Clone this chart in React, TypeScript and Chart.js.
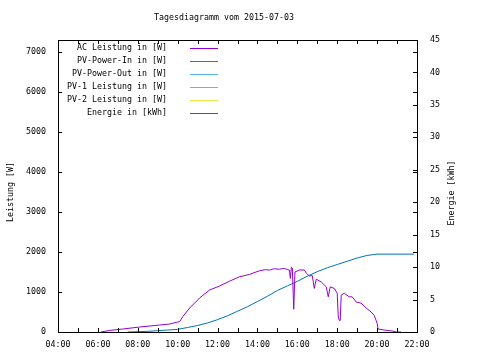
import React, { useEffect, useRef } from "react";
import { Chart, registerables } from "chart.js";

Chart.register(...registerables);

const TITLE = "Tagesdiagramm vom 2015-07-03";
const Y_LABEL = "Leistung [W]";
const Y2_LABEL = "Energie [kWh]";

const seriesLabels = [
  "AC Leistung in [W]",
  "PV-Power-In in [W]",
  "PV-Power-Out in [W]",
  "PV-1 Leistung in [W]",
  "PV-2 Leistung in [W]",
  "Energie in [kWh]",
];
const seriesColors = ["#9400d3", "#009e73", "#56b4e9", "#e69f00", "#f0e442", "#0072b2"];

// time in hours (decimal)
const acTimes = [
  6.15, 6.6, 7.25, 8.1, 9.1, 9.6, 10.0, 10.1, 10.25, 10.6, 11.1, 11.6, 12.1, 12.6, 13.1,
  13.6, 14.1, 14.4, 14.6, 14.8, 15.1, 15.35, 15.5, 15.6, 15.65, 15.7, 15.75, 15.82, 15.88,
  16.1, 16.35, 16.45, 16.6, 16.75, 16.85, 16.95, 17.2, 17.45, 17.55, 17.65, 17.85, 18.0,
  18.05, 18.1, 18.15, 18.2, 18.35, 18.6, 18.75, 18.95, 19.2, 19.45, 19.7, 19.85, 20.0,
  20.05, 20.35, 20.75, 20.95, 21.2,
];
const acValues = [
  0, 40, 75, 125, 175, 200, 250, 260, 380, 600, 850, 1050, 1150, 1270, 1380,
  1440, 1530, 1560, 1545, 1580, 1570, 1590, 1560, 1550, 1340, 1620, 1600, 570, 1500,
  1550, 1550, 1470, 1400, 1410, 1090, 1320, 1250, 1130, 880, 1130, 1090, 970,
  400, 290, 290, 920, 970, 880, 880, 750, 720, 600, 500, 420, 220,
  75, 50, 25, 0, 0,
];

const energyTimes = [
  7.5, 8.0, 8.5, 9.0, 9.5, 10.0, 10.5, 11.0, 11.5, 12.0, 12.5, 13.0, 13.5, 14.0, 14.5,
  15.0, 15.5, 16.0, 16.5, 17.0, 17.5, 18.0, 18.5, 19.0, 19.5, 20.0, 20.5, 21.0, 21.85,
];
const energyValues = [
  0, 0.05, 0.1, 0.2, 0.3, 0.4, 0.7, 1.0, 1.4, 1.9, 2.5, 3.2, 3.9, 4.7, 5.5,
  6.4, 7.1, 7.8, 8.6, 9.3, 9.9, 10.4, 10.9, 11.4, 11.8, 12.0, 12.0, 12.0, 12.0,
];

const xTickHours = [4, 6, 8, 10, 12, 14, 16, 18, 20, 22];
const xMinorHours = [4, 5, 6, 7, 8, 9, 10, 11, 12, 13, 14, 15, 16, 17, 18, 19, 20, 21, 22];
const yTicks = [0, 1000, 2000, 3000, 4000, 5000, 6000, 7000];
const y2Ticks = [0, 5, 10, 15, 20, 25, 30, 35, 40, 45];

const FONT = "DejaVu Sans Mono";
const FSIZE = 8.3;

const gnuplotPlugin = {
  id: "gnuplotDeco",
  afterDraw(chart: any) {
    const ctx = chart.ctx;
    const a = chart.chartArea;
    const xs = chart.scales.x;
    const ys = chart.scales.y;
    const y2s = chart.scales.y2;
    ctx.save();
    ctx.strokeStyle = "#000";
    ctx.lineWidth = 1;
    ctx.strokeRect(a.left + 0.5, a.top + 0.5, a.right - a.left, a.bottom - a.top);
    ctx.beginPath();
    const T = 4;
    xMinorHours.forEach((h) => {
      const x = Math.round(xs.getPixelForValue(h)) + 0.5;
      ctx.moveTo(x, a.bottom);
      ctx.lineTo(x, a.bottom - T);
      ctx.moveTo(x, a.top);
      ctx.lineTo(x, a.top + T);
    });
    yTicks.forEach((v) => {
      const y = Math.round(ys.getPixelForValue(v)) + 0.5;
      ctx.moveTo(a.left, y);
      ctx.lineTo(a.left + T, y);
      ctx.moveTo(a.right, y);
      ctx.lineTo(a.right - T, y);
    });
    y2Ticks.forEach((v) => {
      const y = Math.round(y2s.getPixelForValue(v)) + 0.5;
      ctx.moveTo(a.right, y);
      ctx.lineTo(a.right - T, y);
    });
    ctx.stroke();

    ctx.fillStyle = "#000";
    ctx.font = `${FSIZE}px "${FONT}"`;
    ctx.textBaseline = "middle";
    ctx.textAlign = "center";
    ctx.fillText(TITLE, 224, 18);

    ctx.save();
    ctx.translate(11, 192);
    ctx.rotate(-Math.PI / 2);
    ctx.fillText(Y_LABEL, 0, 0);
    ctx.restore();
    ctx.save();
    ctx.translate(452, 193);
    ctx.rotate(-Math.PI / 2);
    ctx.fillText(Y2_LABEL, 0, 0);
    ctx.restore();

    // legend
    chart.data.datasets.forEach((ds: any, i: number) => {
      const y = 48 + i * 13;
      ctx.textAlign = "right";
      ctx.fillStyle = "#000";
      ctx.fillText(ds.label, 167, y);
      ctx.strokeStyle = ds.borderColor;
      ctx.beginPath();
      ctx.moveTo(190, y + 0.5);
      ctx.lineTo(218, y + 0.5);
      ctx.stroke();
    });
    ctx.restore();
  },
};

const pad2 = (n: number) => (n < 10 ? "0" + n : "" + n);

export default function App() {
  const ref = useRef<HTMLCanvasElement | null>(null);
  useEffect(() => {
    if (!ref.current) return;
    const acData = acTimes.map((t, i) => ({ x: t, y: acValues[i] }));
    const enData = energyTimes.map((t, i) => ({ x: t, y: energyValues[i] }));
    const dataFor = [acData, [], [], [], [], enData];
    const tickFont = { family: FONT, size: FSIZE };
    const chart = new Chart(ref.current, {
      type: "line",
      data: {
        datasets: seriesLabels.map((label, i) => ({
          label,
          data: dataFor[i] as any,
          borderColor: seriesColors[i],
          backgroundColor: seriesColors[i],
          borderWidth: 1,
          pointRadius: 0,
          tension: 0,
          yAxisID: i === 5 ? "y2" : "y",
        })),
      },
      options: {
        animation: false,
        responsive: false,
        devicePixelRatio: 1,
        layout: { padding: { top: 40, left: 0, right: 0, bottom: 0 } },
        plugins: { legend: { display: false }, title: { display: false }, tooltip: { enabled: false } },
        scales: {
          x: {
            type: "linear",
            position: "bottom",
            min: 4,
            max: 22,
            grid: { display: false, drawTicks: false },
            border: { display: false },
            afterBuildTicks: (s: any) => {
              s.ticks = xTickHours.map((v) => ({ value: v }));
            },
            afterFit: (s: any) => {
              s.height = 28;
            },
            ticks: {
              color: "#000",
              font: tickFont,
              padding: 8,
              maxRotation: 0,
              autoSkip: false,
              callback: (v: any) => pad2(Number(v)) + ":00",
            },
          },
          y: {
            type: "linear",
            position: "left",
            min: 0,
            max: 7300,
            grid: { display: false, drawTicks: false },
            border: { display: false },
            afterBuildTicks: (s: any) => {
              s.ticks = yTicks.map((v) => ({ value: v }));
            },
            afterFit: (s: any) => {
              s.width = 58;
            },
            ticks: { color: "#000", font: tickFont, padding: 12, callback: (v: any) => String(v) },
          },
          y2: {
            type: "linear",
            position: "right",
            min: 0,
            max: 45,
            grid: { display: false, drawTicks: false },
            border: { display: false },
            afterBuildTicks: (s: any) => {
              s.ticks = y2Ticks.map((v) => ({ value: v }));
            },
            afterFit: (s: any) => {
              s.width = 63;
            },
            ticks: { color: "#000", font: tickFont, padding: 13, callback: (v: any) => String(v) },
          },
        },
      } as any,
      plugins: [gnuplotPlugin],
    });
    return () => chart.destroy();
  }, []);
  return (
    <div style={{ position: "absolute", left: 0, top: 0, width: 480, height: 360, background: "#fff" }}>
      <canvas ref={ref} width={480} height={360} style={{ display: "block" }} />
    </div>
  );
}
